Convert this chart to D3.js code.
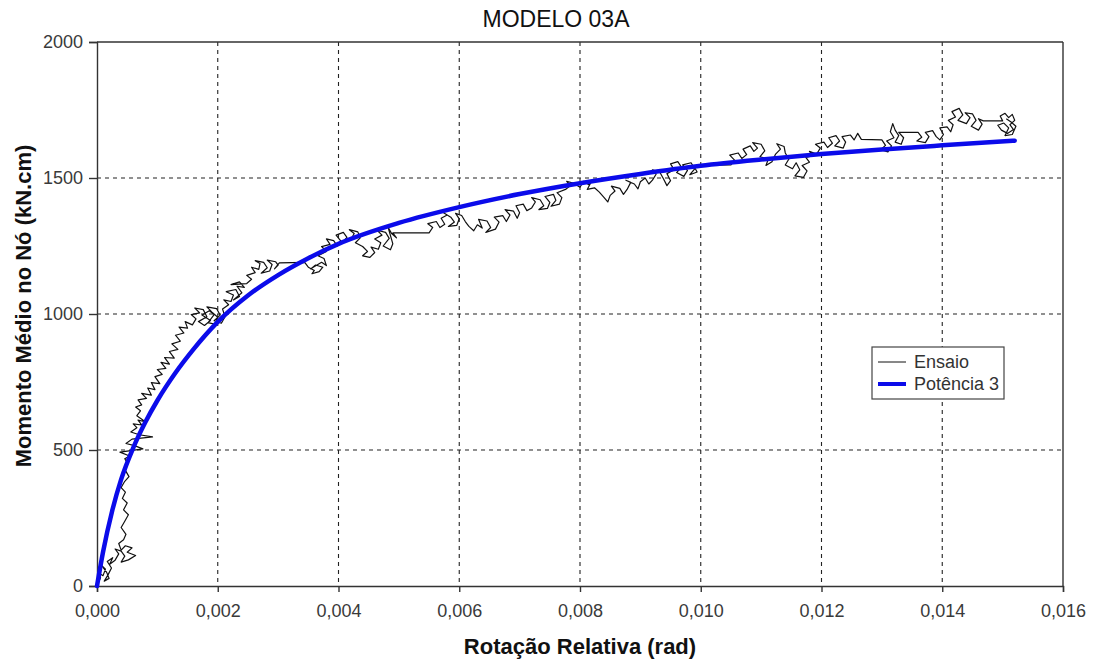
<!DOCTYPE html>
<html>
<head>
<meta charset="utf-8">
<script src="https://cdn.jsdelivr.net/npm/d3@7"></script>
<style>
  html, body { margin: 0; padding: 0; background: #fff; }
  svg { display: block; font-family: "Liberation Sans", Arial, sans-serif; }
</style>
</head>
<body>
<svg id="chart" width="1096" height="664"></svg>
<script>
// Chart title and axis titles
const chartTitle = "MODELO 03A";
const xTitle = "Rotação Relativa (rad)";
const yTitle = "Momento Médio no Nó (kN.cm)";
const seriesNames = ["Ensaio", "Potência 3"];

// Axis ticks
const xTicks = [0, 0.002, 0.004, 0.006, 0.008, 0.010, 0.012, 0.014, 0.016];
const yTicks = [0, 500, 1000, 1500, 2000];

// Test record: [rotation (rad), moment (kN.cm)]
const ensaio = [
  [0,0],[0.00002,12],[0.00006,30],[0.00003,48],[0.0001,38],[0.00014,62],[0.00008,75],[0.00016,50],
  [0.0002,28],[0.00012,18],[0.00018,40],[0.00024,66],[0.00017,90],[0.00026,104],[0.00021,80],[0.0003,95],
  [0.00036,118],[0.0003,136],[0.0004,128],[0.00046,110],[0.0004,88],[0.00052,96],[0.00064,112],[0.0005,124],
  [0.00058,140],[0.00047,148],[0.0004,132],[0.00036,156],[0.00044,170],
  [0.00048,190],[0.0004,215],[0.00046,238],[0.00052,262],[0.00044,280],[0.0005,305],[0.00042,322],
  [0.00047,345],[0.0004,362],[0.00046,385],[0.00053,402],[0.00047,425],[0.00051,450],[0.00046,468],
  [0.00054,478],[0.00038,492],[0.00056,498],[0.00076,504],[0.00062,516],[0.00048,524],[0.00058,540],
  [0.00092,548],[0.0007,556],[0.00056,566],[0.00066,582],[0.0006,596],[0.00074,592],[0.00068,610],
  [0.0008,604],[0.00066,626],[0.00072,644],
  [0.00064,658],[0.00074,666],[0.00068,684],[0.00082,690],[0.00074,708],[0.0009,702],[0.00084,728],
  [0.00096,722],[0.0009,748],[0.00104,744],[0.00096,770],[0.00108,778],[0.001,796],[0.00114,800],
  [0.00106,822],[0.0012,816],[0.00112,840],[0.00128,838],[0.0012,862],[0.00134,870],[0.00124,890],
  [0.00138,900],[0.0013,922],[0.00144,930],[0.00136,952],[0.0015,948],[0.00146,972],[0.00158,960],
  [0.00164,982],[0.00156,998],[0.0017,1004],[0.00162,1022],[0.00176,1016],[0.00182,990],[0.00168,972],
  [0.00178,958],[0.00188,976],[0.00174,996],[0.00186,1012],[0.00194,998],[0.00184,968],[0.00196,962],
  [0.002,988],[0.0019,1008],[0.00182,1026],[0.00198,1020],[0.00204,996],[0.00194,975],[0.00206,966],
  [0.00212,990],[0.00208,1018],[0.00218,1034],[0.0021,1052],[0.00222,1046],[0.00226,1070],[0.00214,1082],
  [0.0023,1090],[0.00236,1064],[0.00226,1052],[0.0024,1078],[0.00232,1102],[0.00244,1098],[0.00236,1118],
  [0.00222,1108],[0.00248,1112],
  [0.00256,1128],[0.00248,1142],[0.00262,1152],[0.00256,1172],[0.00268,1164],[0.0027,1186],[0.00262,1196],
  [0.00276,1190],[0.00282,1170],[0.00272,1150],[0.00286,1158],[0.0029,1182],[0.00282,1198],[0.00296,1192],
  [0.003,1180],[0.00294,1166],[0.00302,1188],
  [0.00344,1190],[0.0035,1172],[0.0036,1160],[0.00356,1148],[0.00368,1156],[0.00374,1172],[0.00362,1180],
  [0.00354,1166],[0.00372,1190],[0.0038,1178],[0.00376,1204],[0.00366,1214],
  [0.0038,1230],[0.00372,1248],[0.00386,1256],[0.0038,1276],[0.00392,1270],[0.00398,1250],[0.00404,1268],
  [0.00396,1290],[0.00408,1300],[0.00414,1282],[0.00406,1262],[0.0042,1272],[0.00426,1296],[0.00418,1310],
  [0.00432,1302],[0.00436,1280],[0.00428,1262],
  [0.0044,1248],[0.00448,1230],[0.0044,1214],[0.00452,1208],[0.0046,1226],[0.00454,1246],[0.00466,1238],
  [0.0047,1262],[0.0046,1276],[0.00472,1290],[0.00464,1308],[0.00478,1300],[0.00484,1278],[0.00474,1250],
  [0.00486,1236],[0.0049,1258],[0.00482,1320],[0.00488,1296],[0.00496,1280],[0.0049,1298],
  [0.0055,1298],[0.00556,1318],[0.00548,1332],[0.00562,1340],[0.00568,1318],[0.00576,1330],[0.0057,1352],
  [0.0058,1364],[0.00574,1372],[0.00586,1356],[0.00592,1338],[0.00582,1322],[0.00596,1326],[0.006,1350],
  [0.00594,1370],[0.00604,1362],[0.0061,1340],
  [0.00616,1322],[0.00624,1306],[0.0063,1328],[0.00638,1316],[0.00632,1348],[0.00646,1342],[0.00652,1318],
  [0.00644,1300],[0.0066,1312],[0.00666,1338],[0.00658,1356],[0.00672,1362],[0.00678,1340],[0.00684,1364],
  [0.00676,1384],[0.0069,1378],[0.00696,1352],[0.007,1372],[0.00694,1398],[0.00706,1404],[0.00712,1380],
  [0.0072,1390],
  [0.00726,1412],[0.0072,1428],[0.00734,1420],[0.0074,1398],[0.00732,1384],[0.00746,1388],[0.0075,1410],
  [0.00742,1432],[0.00756,1440],[0.0076,1418],[0.00752,1396],[0.00766,1404],[0.0077,1428],[0.00762,1446],
  [0.00776,1458],[0.00784,1472],[0.00778,1488],[0.0079,1480],[0.008,1466],[0.00806,1488],[0.00814,1476],
  [0.0082,1492],[0.00812,1458],[0.00824,1464],
  [0.00832,1448],[0.0084,1428],[0.00846,1412],[0.0085,1436],[0.00858,1452],[0.00852,1470],[0.00866,1462],
  [0.00872,1440],[0.00878,1458],[0.00884,1484],[0.00876,1492],[0.0089,1478],[0.00896,1460],[0.009,1486],
  [0.00908,1500],[0.00914,1478],[0.0092,1492],[0.00926,1514],[0.0092,1530],[0.00932,1522],[0.00938,1498],
  [0.00944,1472],[0.0095,1490],[0.00944,1516],[0.00956,1530],[0.0095,1552],[0.00962,1560],[0.00968,1540],
  [0.0096,1520],[0.00972,1506],[0.00978,1528],[0.0097,1548],[0.00984,1556],[0.0099,1534],[0.00982,1512],
  [0.00994,1522],[0.00988,1546],
  [0.0105,1548],[0.01056,1566],[0.01048,1584],[0.01062,1592],[0.01068,1572],[0.01076,1586],[0.0107,1606],
  [0.01082,1618],[0.01088,1598],[0.01094,1610],[0.01086,1630],[0.011,1624],[0.01106,1600],[0.01098,1578],
  [0.01112,1570],[0.01108,1546],[0.01118,1560],[0.01124,1588],[0.01132,1606],[0.01126,1626],[0.01138,1616],
  [0.0114,1592],
  [0.01146,1570],[0.0114,1548],[0.01152,1534],[0.01158,1556],[0.01164,1530],[0.01156,1508],[0.0117,1502],
  [0.01176,1526],[0.01168,1546],[0.0118,1558],[0.01174,1576],[0.01186,1582],[0.0118,1598],
  [0.01192,1588],[0.01198,1610],[0.0119,1624],[0.01204,1632],[0.0121,1612],[0.01218,1628],[0.01212,1648],
  [0.01224,1656],[0.0123,1636],[0.01222,1618],[0.01236,1610],[0.0124,1632],[0.01234,1652],[0.01248,1658],
  [0.01254,1640],[0.0126,1664],[0.01266,1642],
  [0.013,1640],[0.01306,1620],[0.01298,1604],[0.0131,1596],[0.01316,1618],[0.01308,1636],[0.0132,1648],
  [0.01314,1670],[0.01318,1700],[0.01322,1676],[0.01328,1656],[0.01322,1632],[0.01332,1624],[0.01336,1648],
  [0.01328,1668],
  [0.0136,1668],[0.01366,1650],[0.01358,1636],[0.01372,1630],[0.01378,1652],[0.01372,1668],[0.01384,1674],
  [0.0139,1652],[0.01396,1640],[0.01402,1660],[0.01396,1684],[0.01408,1688],
  [0.01414,1670],[0.01418,1696],[0.0141,1712],[0.01422,1724],[0.01416,1744],[0.01428,1756],[0.01434,1732],
  [0.01426,1712],[0.0144,1700],[0.01446,1722],[0.01438,1740],[0.0145,1736],[0.01456,1712],[0.01448,1690],
  [0.0146,1676],[0.01466,1698],[0.0146,1718],[0.01468,1710],
  [0.015,1710],[0.01496,1728],[0.01504,1738],[0.0151,1722],[0.01516,1734],[0.0152,1712],[0.01512,1696],
  [0.01518,1678],[0.01508,1664],[0.01498,1676],[0.01492,1694],[0.01502,1702],[0.0151,1684],[0.01504,1656],
  [0.01516,1660],[0.01522,1690],[0.01514,1706],[0.01506,1718]
];

// Fitted power trend: rotation (rad) and moment (kN.cm)
const fitRot = [0, 0.0001, 0.00025, 0.0004, 0.0006, 0.0008, 0.001, 0.0013, 0.0016, 0.002,
  0.0025, 0.003, 0.0035, 0.004, 0.005, 0.006, 0.007, 0.008, 0.009, 0.010,
  0.011, 0.012, 0.013, 0.014, 0.0152];
const fitMom = [0, 125, 275, 392, 508, 602, 682, 784, 871, 971,
  1068, 1143, 1205, 1258, 1335, 1393, 1441, 1481, 1515, 1545,
  1568, 1588, 1605, 1620, 1637];

const svg = d3.select("#chart");
const W = 1096, H = 664;
const m = { left: 97, right: 33, top: 42, bottom: 78 };

const x = d3.scaleLinear().domain([0, 0.016]).range([m.left, W - m.right]);
const y = d3.scaleLinear().domain([0, 2000]).range([H - m.bottom, m.top]);

const fmtX = v => d3.format(".3f")(v).replace(".", ",");

// Gridlines
const grid = svg.append("g").attr("stroke", "#222").attr("stroke-width", 1.1)
  .attr("stroke-dasharray", "4,4");
grid.selectAll("line.v").data(xTicks.slice(1, -1)).join("line")
  .attr("x1", d => x(d)).attr("x2", d => x(d))
  .attr("y1", y(2000)).attr("y2", y(0));
grid.selectAll("line.h").data(yTicks.slice(1, -1)).join("line")
  .attr("x1", x(0)).attr("x2", x(0.016))
  .attr("y1", d => y(d)).attr("y2", d => y(d));

// Frame (top and right)
svg.append("line").attr("x1", x(0)).attr("x2", x(0.016)).attr("y1", y(2000)).attr("y2", y(2000))
  .attr("stroke", "#333").attr("stroke-width", 1.4);
svg.append("line").attr("x1", x(0.016)).attr("x2", x(0.016)).attr("y1", y(2000)).attr("y2", y(0))
  .attr("stroke", "#333").attr("stroke-width", 1.4);

// Axes
const xAxis = svg.append("g").attr("transform", `translate(0,${y(0)})`)
  .call(d3.axisBottom(x).tickValues(xTicks).tickFormat(fmtX).tickSize(6).tickPadding(12));
const yAxis = svg.append("g").attr("transform", `translate(${x(0)},0)`)
  .call(d3.axisLeft(y).tickValues(yTicks).tickFormat(d3.format("d")).tickSize(8).tickPadding(6));
[xAxis, yAxis].forEach(g => {
  g.select(".domain").attr("stroke", "#333").attr("stroke-width", 1.4);
  g.selectAll(".tick line").attr("stroke", "#333").attr("stroke-width", 1.4);
  g.selectAll(".tick text").attr("fill", "#3a3a3a").style("font-size", "18px")
    .style("font-family", "'Liberation Sans', Arial, sans-serif");
});

// Test curve
const line = d3.line().x(d => x(d[0])).y(d => y(d[1]));
svg.append("path").datum(ensaio).attr("d", line)
  .attr("fill", "none").attr("stroke", "#111").attr("stroke-width", 1.2)
  .attr("stroke-linejoin", "round");

// Power trend curve
const fitPts = fitRot.map((r, i) => [r, fitMom[i]]);
svg.append("path").datum(fitPts)
  .attr("d", d3.line().x(d => x(d[0])).y(d => y(d[1])).curve(d3.curveMonotoneX))
  .attr("fill", "none").attr("stroke", "#0b0bea").attr("stroke-width", 4.5)
  .attr("stroke-linecap", "round").attr("stroke-linejoin", "round");

// Title
svg.append("text").attr("x", 556).attr("y", 27).attr("text-anchor", "middle")
  .style("font-size", "23px").attr("fill", "#111").text(chartTitle);

// Axis titles
svg.append("text").attr("x", 580).attr("y", 654).attr("text-anchor", "middle")
  .style("font-size", "22px").style("font-weight", "bold").attr("fill", "#111").text(xTitle);
svg.append("text").attr("transform", "translate(31,306) rotate(-90)").attr("text-anchor", "middle")
  .style("font-size", "22px").style("font-weight", "bold").attr("fill", "#111").text(yTitle);

// Legend
const lg = svg.append("g").attr("transform", "translate(872,347)");
lg.append("rect").attr("width", 132).attr("height", 52)
  .attr("fill", "#fff").attr("stroke", "#444").attr("stroke-width", 1.2);
const items = [
  { name: seriesNames[0], color: "#111", w: 1 },
  { name: seriesNames[1], color: "#0b0bea", w: 4 }
];
items.forEach((it, i) => {
  const yy = 15 + i * 22;
  lg.append("line").attr("x1", 6).attr("x2", 34).attr("y1", yy).attr("y2", yy)
    .attr("stroke", it.color).attr("stroke-width", it.w);
  lg.append("text").attr("x", 42).attr("y", yy + 6).style("font-size", "18px")
    .attr("fill", "#333").text(it.name);
});
</script>
</body>
</html>
